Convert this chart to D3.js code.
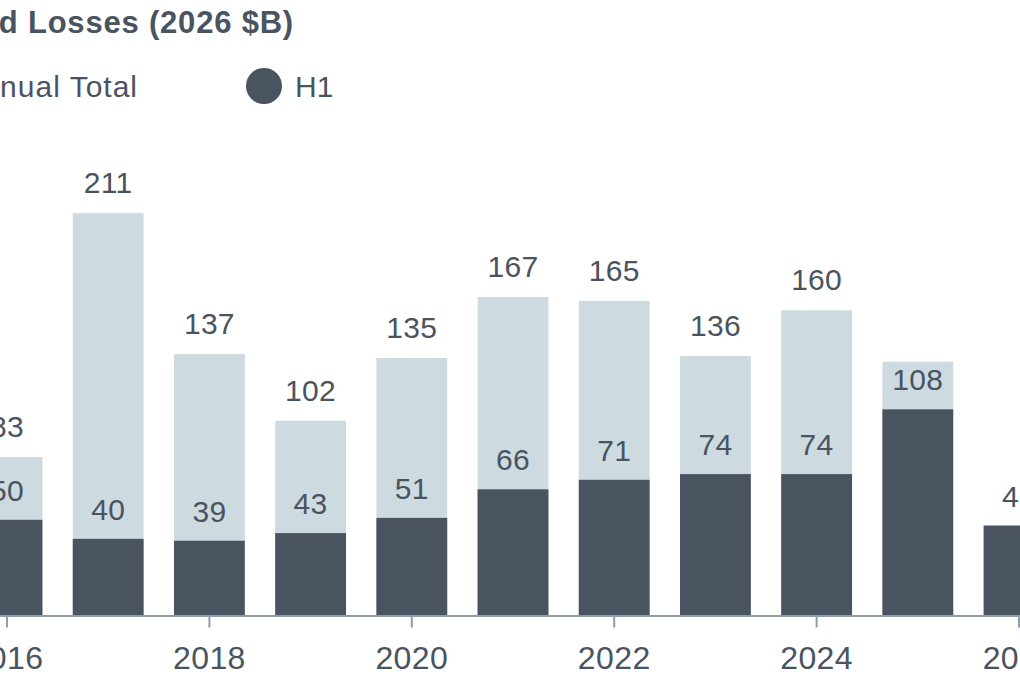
<!DOCTYPE html>
<html>
<head>
  <meta charset="utf-8">
  <style>
    body { margin: 0; background: #fff; overflow: hidden; }
    text { font-family: "Liberation Sans", Arial, sans-serif; fill: #4a5360; }
  </style>
</head>
<body>
  <svg width="1020" height="700"></svg>
<script src="https://cdn.jsdelivr.net/npm/d3@7"></script>
<script>

var years  = [2016, 2017, 2018, 2019, 2020, 2021, 2022, 2023, 2024, 2025, 2026];
var totals = [83, 211, 137, 102, 135, 167, 165, 136, 160, 133, null];
var h1     = [50, 40, 39, 43, 51, 66, 71, 74, 74, 108, 47];
// which totals get a label above the bar
var totalLabels = [83, 211, 137, 102, 135, 167, 165, 136, 160, null, null];
var tickYears = [2016, 2018, 2020, 2022, 2024, 2026];

var dark = "#4a5360",
    light = "#cddbe0";

var svg = d3.select("svg");

var data = years.map(function(y, i) {
  return { year: y, total: totals[i], h1: h1[i], label: totalLabels[i] };
});

// the view is a crop of a wider chart, so the band range runs past both edges
var x = d3.scaleBand()
    .domain(years)
    .range([-58.8, 1084.8])
    .paddingInner(0.3)
    .paddingOuter(0.3);

var y = d3.scaleLinear()
    .domain([0, 240])
    .range([615, 158]);

// title + legend
svg.append("text")
    .attr("x", 294).attr("y", 33)
    .attr("text-anchor", "end")
    .style("font-weight", "bold")
    .style("font-size", "31px")
    .style("letter-spacing", "0.8px")
    .text("Global Insured Losses (2026 $B)");

svg.append("circle").attr("cx", -20).attr("cy", 86).attr("r", 18).attr("fill", light);
svg.append("text")
    .attr("x", 138).attr("y", 97)
    .attr("text-anchor", "end")
    .style("font-size", "30px")
    .style("letter-spacing", "1px")
    .text("Annual Total");

svg.append("circle").attr("cx", 264).attr("cy", 86).attr("r", 18).attr("fill", dark);
svg.append("text")
    .attr("x", 295).attr("y", 97)
    .style("font-size", "30px")
    .text("H1");

// bars
var bars = svg.append("g");

bars.selectAll(".total")
    .data(data.filter(function(d) { return d.total != null; }))
  .enter().append("rect")
    .attr("class", "total")
    .attr("x", function(d) { return x(d.year); })
    .attr("width", x.bandwidth())
    .attr("y", function(d) { return y(d.total); })
    .attr("height", function(d) { return y(0) - y(d.total); })
    .attr("fill", light);

bars.selectAll(".h1")
    .data(data)
  .enter().append("rect")
    .attr("class", "h1")
    .attr("x", function(d) { return x(d.year); })
    .attr("width", x.bandwidth())
    .attr("y", function(d) { return y(d.h1); })
    .attr("height", function(d) { return y(0) - y(d.h1); })
    .attr("fill", dark);

svg.selectAll(".tlabel")
    .data(data.filter(function(d) { return d.label != null; }))
  .enter().append("text")
    .attr("class", "tlabel")
    .attr("x", function(d) { return x(d.year) + x.bandwidth() / 2; })
    .attr("y", function(d) { return y(d.total) - 20; })
    .attr("text-anchor", "middle")
    .style("font-size", "30px")
    .style("letter-spacing", "0.3px")
    .text(function(d) { return d.label; });

svg.selectAll(".hlabel")
    .data(data)
  .enter().append("text")
    .attr("class", "hlabel")
    .attr("x", function(d) { return x(d.year) + x.bandwidth() / 2; })
    .attr("y", function(d) { return y(d.h1) - 19; })
    .attr("text-anchor", "middle")
    .style("font-size", "30px")
    .style("letter-spacing", "0.3px")
    .text(function(d) { return d.h1; });

// x axis
var axis = svg.append("g")
    .attr("transform", "translate(0," + 615.5 + ")")
    .call(d3.axisBottom(x).tickValues(tickYears).tickSize(12).tickSizeOuter(0).tickPadding(19));

axis.select(".domain").attr("stroke", "#8e9ea9").attr("stroke-width", 2);
axis.selectAll(".tick line").attr("stroke", "#8e9ea9").attr("stroke-width", 2);
axis.selectAll(".tick text")
    .attr("fill", dark)
    .style("font-family", "'Liberation Sans', Arial, sans-serif")
    .style("font-size", "32px")
    .style("letter-spacing", "0.4px");

</script>
</body>
</html>
